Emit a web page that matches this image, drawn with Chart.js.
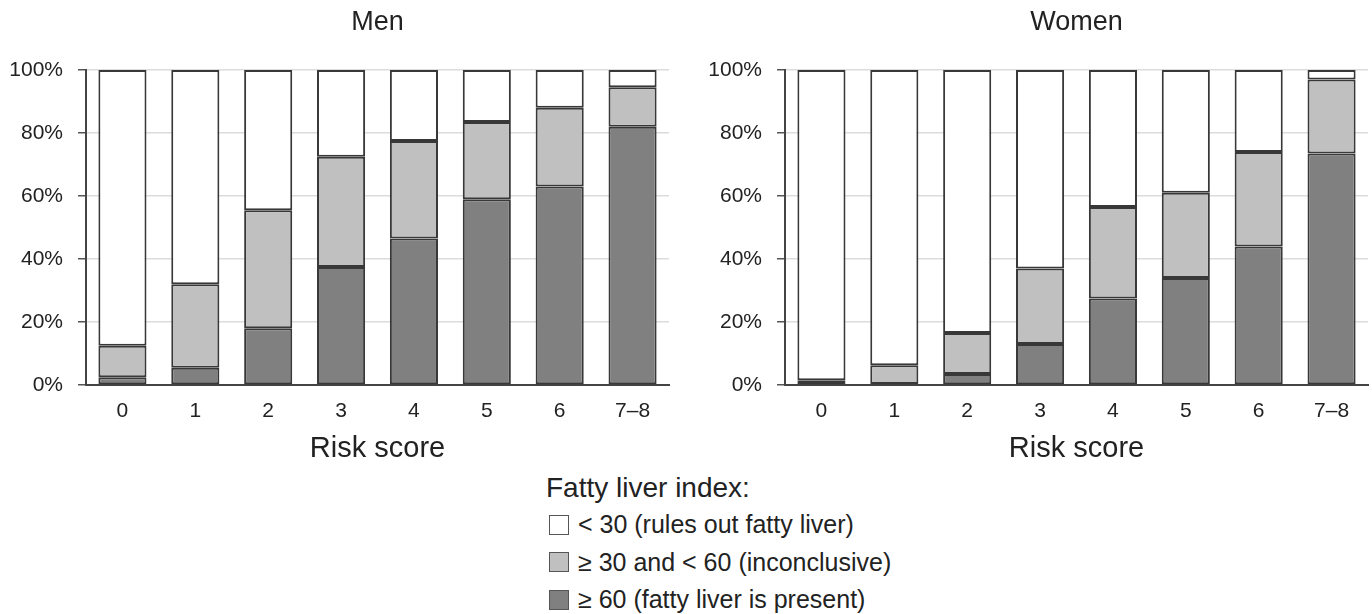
<!DOCTYPE html>
<html>
<head>
<meta charset="utf-8">
<script src="https://cdn.jsdelivr.net/npm/chart.js@4/dist/chart.umd.min.js"></script>
<style>
  html, body { margin: 0; padding: 0; background: #fff; }
  body { width: 1372px; height: 614px; position: relative; overflow: hidden; font-family: "Liberation Sans", Arial, sans-serif; color: #222; }
  .box { position: absolute; top: 0; height: 468px; }
  #men-wrap { left: 0; width: 680px; }
  #women-wrap { left: 690px; width: 682px; }
  #legend { position: absolute; left: 546px; top: 470px; }
  #legend .ttl { font-size: 28px; line-height: 36px; }
  #legend .row { font-size: 25px; line-height: 37.5px; display: flex; align-items: center; }
  #legend .sw { width: 18px; height: 18px; border: 1.5px solid #555; margin: 0 9px 0 3px; }
</style>
</head>
<body>
<div class="box" id="men-wrap"><canvas id="men"></canvas></div>
<div class="box" id="women-wrap"><canvas id="women"></canvas></div>
<div id="legend"></div>
<script>
  // Risk score categories
  const categories = ['0', '1', '2', '3', '4', '5', '6', '7–8'];

  // Men (% of group)
  const menHigh = [2.5, 5.5, 18, 37.5, 46.5, 59, 63, 82];
  const menMid  = [10, 26.5, 37.5, 35, 31, 24.5, 25, 12.5];
  const menLow  = [87.5, 68, 44.5, 27.5, 22.5, 16.5, 12, 5.5];

  // Women (% of group)
  const womenHigh = [0, 0.3, 3.5, 13, 27.5, 34, 44, 73.5];
  const womenMid  = [1.5, 6, 13, 24, 29, 27, 30, 23.5];
  const womenLow  = [98.5, 93.7, 83.5, 63, 43.5, 39, 26, 3];

  const legendTitle = 'Fatty liver index:';
  const seriesNames = ['< 30 (rules out fatty liver)', '≥ 30 and < 60 (inconclusive)', '≥ 60 (fatty liver is present)'];
  const seriesColors = ['#ffffff', '#c0c0c0', '#808080'];

  const FONT = "'Liberation Sans', Arial, sans-serif";
  const INK = '#222';

  // panel title centred over the plot area
  const panelTitle = {
    id: 'panelTitle',
    afterDraw(chart, args, opts) {
      const { ctx, chartArea } = chart;
      ctx.save();
      ctx.fillStyle = INK;
      ctx.font = '27px ' + FONT;
      ctx.textAlign = 'center';
      ctx.textBaseline = 'middle';
      ctx.fillText(opts.text, (chartArea.left + chartArea.right) / 2, 23);
      ctx.restore();
    }
  };

  function makeChart(id, title, low, mid, high, padL, padR) {
    const ds = (data, i) => ({
      label: seriesNames[i], data: data,
      backgroundColor: seriesColors[i],
      borderColor: '#383838', borderWidth: 2, borderSkipped: false,
      categoryPercentage: 0.66, barPercentage: 1.0
    });
    return new Chart(document.getElementById(id), {
      type: 'bar',
      data: { labels: categories, datasets: [ds(high, 2), ds(mid, 1), ds(low, 0)] },
      plugins: [panelTitle],
      options: {
        responsive: true, maintainAspectRatio: false, animation: false,
        layout: { padding: { left: padL, right: padR, top: 70, bottom: 0 } },
        plugins: {
          legend: { display: false },
          tooltip: { enabled: false },
          panelTitle: { text: title }
        },
        scales: {
          x: {
            stacked: true,
            grid: { display: false, drawTicks: false },
            border: { display: true, color: '#444', width: 2 },
            ticks: { color: INK, padding: 14, font: { family: FONT, size: 21 } },
            title: { display: true, text: 'Risk score', color: INK, font: { family: FONT, size: 29 }, padding: { top: -7, bottom: 2 } }
          },
          y: {
            stacked: true, min: 0, max: 100,
            afterFit: s => { s.width = 77; },
            grid: { color: '#dcdcdc', lineWidth: 1.5, tickColor: '#555', tickLength: 8 },
            border: { display: true, color: '#444', width: 2 },
            ticks: { stepSize: 20, color: INK, padding: 15, font: { family: FONT, size: 21 }, callback: v => v + '%' }
          }
        }
      }
    });
  }

  makeChart('men', 'Men', menLow, menMid, menHigh, 9, 11);
  makeChart('women', 'Women', womenLow, womenMid, womenHigh, 18, 4);

  // legend built from the series arrays
  const lg = document.getElementById('legend');
  let html = '<div class="ttl">' + legendTitle + '</div>';
  seriesNames.forEach((n, i) => {
    html += '<div class="row"><span class="sw" style="background:' + seriesColors[i] + '"></span>' + n.replace(/</g, '&lt;') + '</div>';
  });
  lg.innerHTML = html;
</script>
</body>
</html>
